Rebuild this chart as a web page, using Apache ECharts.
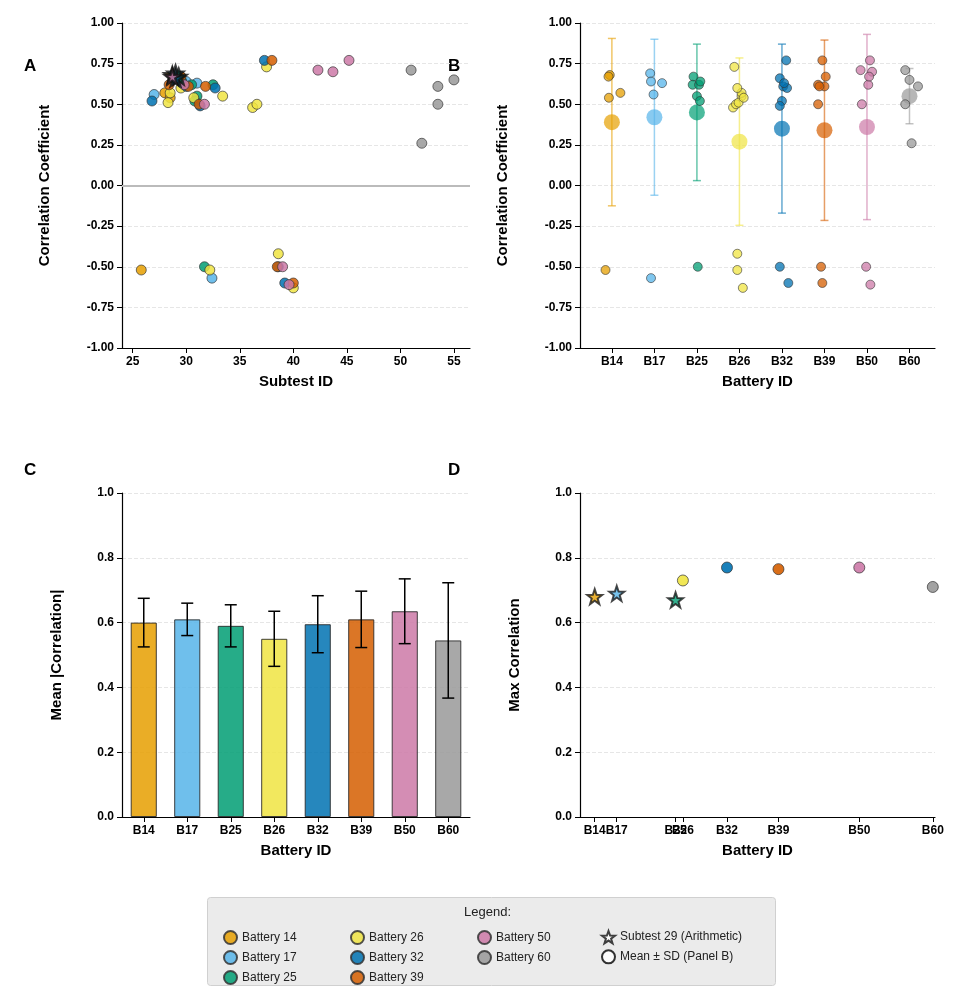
<!DOCTYPE html>
<html>
<head>
<meta charset="utf-8">
<script src="https://cdn.jsdelivr.net/npm/echarts@6/dist/echarts.min.js"></script>
<style>html,body{margin:0;padding:0;background:#fff}#chart{width:970px;height:994px}</style>
</head>
<body>
<div id="chart"></div>
<script>
var FONT = '"Liberation Sans", Arial, sans-serif';
var batteries = [14, 17, 25, 26, 32, 39, 50, 60];
var colors = ['#E69F00', '#56B4E9', '#009E73', '#F0E442', '#0072B2', '#D55E00', '#CC79A7', '#999999'];

// [subtest, correlation, jitter offset for panel B]
var points = {
	14: [[25.8, -0.52, -0.15], [29, 0.68, -0.05], [29.5, 0.67, -0.08], [28, 0.57, 0.2], [28.5, 0.54, -0.07]],
	17: [[27, 0.56, -0.02], [29, 0.69, -0.1], [30, 0.64, -0.08], [31, 0.63, 0.18], [32.4, -0.57, -0.08]],
	25: [[29, 0.67, -0.08], [30.5, 0.62, -0.1], [31, 0.55, 0.0], [32.5, 0.62, 0.05], [30.8, 0.52, 0.07], [29.6, 0.64, 0.08], [31.7, -0.50, 0.02]],
	26: [[37.5, 0.73, -0.12], [36.2, 0.48, -0.15], [36.6, 0.50, -0.08], [33.4, 0.55, 0.05], [28.3, 0.51, -0.02], [28.5, 0.57, 0.05], [30.7, 0.54, 0.1], [29.5, 0.60, -0.05], [38.6, -0.42, -0.05], [32.2, -0.52, -0.05], [40, -0.63, 0.08]],
	32: [[37.3, 0.77, 0.1], [26.8, 0.52, 0.0], [30, 0.61, 0.03], [32.7, 0.60, 0.12], [29, 0.66, -0.05], [31.3, 0.49, -0.05], [29.6, 0.63, 0.05], [38.6, -0.50, -0.05], [39.2, -0.60, 0.15]],
	39: [[38, 0.77, -0.05], [31.8, 0.61, 0.0], [28.4, 0.62, -0.15], [31.2, 0.50, -0.15], [29.5, 0.67, 0.03], [30.2, 0.61, -0.12], [38.5, -0.50, -0.08], [40, -0.60, -0.05]],
	50: [[42.3, 0.71, -0.15], [43.7, 0.70, 0.12], [45.2, 0.77, 0.07], [31.7, 0.50, -0.12], [29.8, 0.62, 0.03], [29, 0.67, 0.05], [39, -0.50, -0.02], [39.6, -0.61, 0.08]],
	60: [[51, 0.71, -0.1], [53.5, 0.61, 0.2], [55, 0.65, 0.0], [53.5, 0.50, -0.1], [52, 0.26, 0.05]]
};
// panel B mean and sd of signed correlation
var meanSd = [[0.39, 0.515], [0.42, 0.48], [0.45, 0.42], [0.27, 0.515], [0.35, 0.52], [0.34, 0.555], [0.36, 0.57], [0.55, 0.17]];
// panel C mean and sd of |correlation|
var absStats = [[0.60, 0.075], [0.61, 0.05], [0.59, 0.065], [0.55, 0.085], [0.595, 0.088], [0.61, 0.087], [0.635, 0.1], [0.545, 0.178]];
// panel D max correlation, star = subtest 29
var maxCorr = [[14, 0.68, true], [17, 0.69, true], [25, 0.67, true], [26, 0.73, false], [32, 0.77, false], [39, 0.765, false], [50, 0.77, false], [60, 0.71, false]];

var grids = [
	{left: 122, top: 23, width: 348, height: 325},
	{left: 580, top: 23, width: 355, height: 325},
	{left: 122, top: 493, width: 348, height: 324},
	{left: 580, top: 493, width: 355, height: 324}
];
var axisLine = {onZero: false, lineStyle: {color: '#000', width: 1.2}};
var axisTick = {show: true, lineStyle: {color: '#000'}, length: 5};
var axisLabel = {color: '#000', fontWeight: 'bold', fontSize: 12, fontFamily: FONT};
var splitLine = {show: true, lineStyle: {color: '#e6e6e6', type: 'dashed'}};
var nameStyle = {color: '#000', fontWeight: 'bold', fontSize: 15, fontFamily: FONT};
function yAx(i, min, max, interval, name, fmt, gap) {
	return {type: 'value', gridIndex: i, min: min, max: max, interval: interval, name: name, nameLocation: 'middle', nameGap: gap, nameTextStyle: nameStyle,
		axisLine: Object.assign({show: true}, axisLine), axisTick: axisTick, axisLabel: Object.assign({formatter: fmt}, axisLabel), splitLine: splitLine};
}
var catLabel = function (v) { return 'B' + batteries[Math.round(v)]; };

var series = [];
var symBorder = {borderColor: '#333', borderWidth: 0.8};
var starPath = 'path://M0,-10 L2.35,-3.24 L9.51,-3.09 L3.8,1.24 L5.88,8.09 L0,4 L-5.88,8.09 L-3.8,1.24 L-9.51,-3.09 L-2.35,-3.24 Z';
batteries.forEach(function (b, i) {
	// panel A
	series.push({
		type: 'scatter', name: 'Battery ' + b, xAxisIndex: 0, yAxisIndex: 0, symbolSize: 10,
		itemStyle: Object.assign({color: colors[i], opacity: 0.85}, symBorder),
		data: points[b].filter(function (p) { return p[0] !== 29; }).map(function (p) { return [p[0], p[1]]; })
	});
	// panel B error bar
	var m = meanSd[i];
	series.push({
		type: 'custom', xAxisIndex: 1, yAxisIndex: 1, silent: true, z: 1,
		data: [[i, m[0] - m[1], m[0] + m[1]]],
		renderItem: function (params, api) {
			var lo = api.coord([api.value(0), api.value(1)]);
			var hi = api.coord([api.value(0), api.value(2)]);
			var st = {stroke: colors[i], lineWidth: 1.5, opacity: 0.6};
			return {type: 'group', children: [
				{type: 'line', shape: {x1: lo[0], y1: lo[1], x2: hi[0], y2: hi[1]}, style: st},
				{type: 'line', shape: {x1: lo[0] - 4, y1: lo[1], x2: lo[0] + 4, y2: lo[1]}, style: st},
				{type: 'line', shape: {x1: hi[0] - 4, y1: hi[1], x2: hi[0] + 4, y2: hi[1]}, style: st}
			]};
		}
	});
	series.push({
		type: 'scatter', xAxisIndex: 1, yAxisIndex: 1, symbolSize: 9, z: 3,
		itemStyle: Object.assign({color: colors[i], opacity: 0.75}, symBorder),
		data: points[b].map(function (p) { return [i + p[2], p[1]]; })
	});
	series.push({
		type: 'scatter', xAxisIndex: 1, yAxisIndex: 1, symbolSize: 16, z: 2,
		itemStyle: {color: colors[i], opacity: 0.7}, data: [[i, m[0]]]
	});
	// panel D
	var d = maxCorr[i];
	series.push({
		type: 'scatter', xAxisIndex: 3, yAxisIndex: 3, symbol: d[2] ? starPath : 'circle',
		symbolSize: d[2] ? 15 : 11,
		itemStyle: d[2] ? {color: colors[i], borderColor: '#1a1a1a', borderWidth: 2} : Object.assign({color: colors[i], opacity: 0.9}, symBorder),
		data: [[d[0], d[1]]]
	});
});
// subtest 29 stars in panel A
var starData = [];
batteries.forEach(function (b, i) {
	points[b].forEach(function (p) { if (p[0] === 29) starData.push({value: [p[0] + (i % 3 - 1) * 0.3, p[1]], itemStyle: {color: colors[i]}}); });
});
series.push({type: 'scatter', name: 'Subtest 29 (Arithmetic)', xAxisIndex: 0, yAxisIndex: 0, symbol: starPath, symbolSize: 15, z: 5,
	itemStyle: {color: '#fff', borderColor: '#111', borderWidth: 2.5}, data: starData});
series.push({type: 'scatter', name: 'Mean ± SD (Panel B)', xAxisIndex: 0, yAxisIndex: 0, symbolSize: 12,
	itemStyle: {color: '#fff', borderColor: '#000', borderWidth: 2}, data: []});
// zero line panel A
series.push({type: 'line', xAxisIndex: 0, yAxisIndex: 0, data: [], markLine: {silent: true, symbol: 'none', label: {show: false},
	lineStyle: {color: '#bbb', width: 2, type: 'solid'}, data: [{yAxis: 0}]}});
// panel C bars
series.push({type: 'bar', xAxisIndex: 2, yAxisIndex: 2, barWidth: '60%',
	data: absStats.map(function (s, i) { return {value: s[0], itemStyle: {color: colors[i], opacity: 0.85, borderColor: '#222', borderWidth: 1}}; })});
series.push({type: 'custom', xAxisIndex: 2, yAxisIndex: 2, z: 5,
	data: absStats.map(function (s, i) { return [i, s[0] - s[1], s[0] + s[1]]; }),
	renderItem: function (params, api) {
		var lo = api.coord([api.value(0), api.value(1)]);
		var hi = api.coord([api.value(0), api.value(2)]);
		var st = {stroke: '#000', lineWidth: 1.5};
		return {type: 'group', children: [
			{type: 'line', shape: {x1: lo[0], y1: lo[1], x2: hi[0], y2: hi[1]}, style: st},
			{type: 'line', shape: {x1: lo[0] - 6, y1: lo[1], x2: lo[0] + 6, y2: lo[1]}, style: st},
			{type: 'line', shape: {x1: hi[0] - 6, y1: hi[1], x2: hi[0] + 6, y2: hi[1]}, style: st}
		]};
	}});

var legendBase = {orient: 'vertical', itemGap: 5, itemWidth: 13, itemHeight: 13, icon: 'circle',
	textStyle: {fontSize: 12, fontFamily: FONT, color: '#222'}, selectedMode: false};
var letter = function (t, x, y) { return {type: 'text', left: x, top: y, style: {text: t, font: 'bold 17px ' + FONT, fill: '#000'}}; };
var xA = [25, 30, 35, 40, 45, 50, 55];
var idx = [0, 1, 2, 3, 4, 5, 6, 7];

var option = {
	animation: false,
	grid: grids,
	xAxis: [
		{type: 'value', gridIndex: 0, min: 24, max: 56.5, name: 'Subtest ID', nameLocation: 'middle', nameGap: 26, nameTextStyle: nameStyle,
			axisLine: axisLine, axisTick: Object.assign({customValues: xA}, axisTick), axisLabel: Object.assign({customValues: xA}, axisLabel), splitLine: {show: false}},
		{type: 'value', gridIndex: 1, min: -0.75, max: 7.6, name: 'Battery ID', nameLocation: 'middle', nameGap: 26, nameTextStyle: nameStyle,
			axisLine: axisLine, axisTick: Object.assign({customValues: idx}, axisTick),
			axisLabel: Object.assign({customValues: idx, formatter: catLabel}, axisLabel), splitLine: {show: false}},
		{type: 'category', gridIndex: 2, data: batteries.map(function (b) { return 'B' + b; }), name: 'Battery ID', nameLocation: 'middle', nameGap: 26, nameTextStyle: nameStyle,
			axisLine: axisLine, axisTick: Object.assign({alignWithLabel: true}, axisTick), axisLabel: axisLabel},
		{type: 'value', gridIndex: 3, min: 12, max: 60.3, name: 'Battery ID', nameLocation: 'middle', nameGap: 26, nameTextStyle: nameStyle,
			axisLine: axisLine, axisTick: Object.assign({customValues: batteries}, axisTick),
			axisLabel: Object.assign({customValues: batteries, hideOverlap: false, formatter: function (v) { return 'B' + v; }}, axisLabel), splitLine: {show: false}}
	],
	yAxis: [
		yAx(0, -1, 1, 0.25, 'Correlation Coefficient', function (v) { return v.toFixed(2); }, 70),
		yAx(1, -1, 1, 0.25, 'Correlation Coefficient', function (v) { return v.toFixed(2); }, 70),
		yAx(2, 0, 1, 0.2, 'Mean |Correlation|', function (v) { return v.toFixed(1); }, 58),
		yAx(3, 0, 1, 0.2, 'Max Correlation', function (v) { return v.toFixed(1); }, 58)
	],
	legend: [
		Object.assign({left: 218, top: 925, data: ['Battery 14', 'Battery 17', 'Battery 25']}, legendBase),
		Object.assign({left: 345, top: 925, data: ['Battery 26', 'Battery 32', 'Battery 39']}, legendBase),
		Object.assign({left: 472, top: 925, data: ['Battery 50', 'Battery 60']}, legendBase),
		Object.assign({left: 596, top: 925, data: [{name: 'Subtest 29 (Arithmetic)', icon: starPath}, 'Mean ± SD (Panel B)']}, legendBase)
	],
	graphic: [
		{type: 'rect', left: 207, top: 897, shape: {width: 568, height: 88, r: 3}, style: {fill: '#ebebeb', stroke: '#d0d0d0'}, z: -10},
		{type: 'text', left: 464, top: 906, style: {text: 'Legend:', font: '13px ' + FONT, fill: '#222'}},
		letter('A', 24, 58), letter('B', 448, 58), letter('C', 24, 462), letter('D', 448, 462)
	],
	series: series
};
var chart = echarts.init(document.getElementById('chart'));
chart.setOption(option);
</script>
</body>
</html>
